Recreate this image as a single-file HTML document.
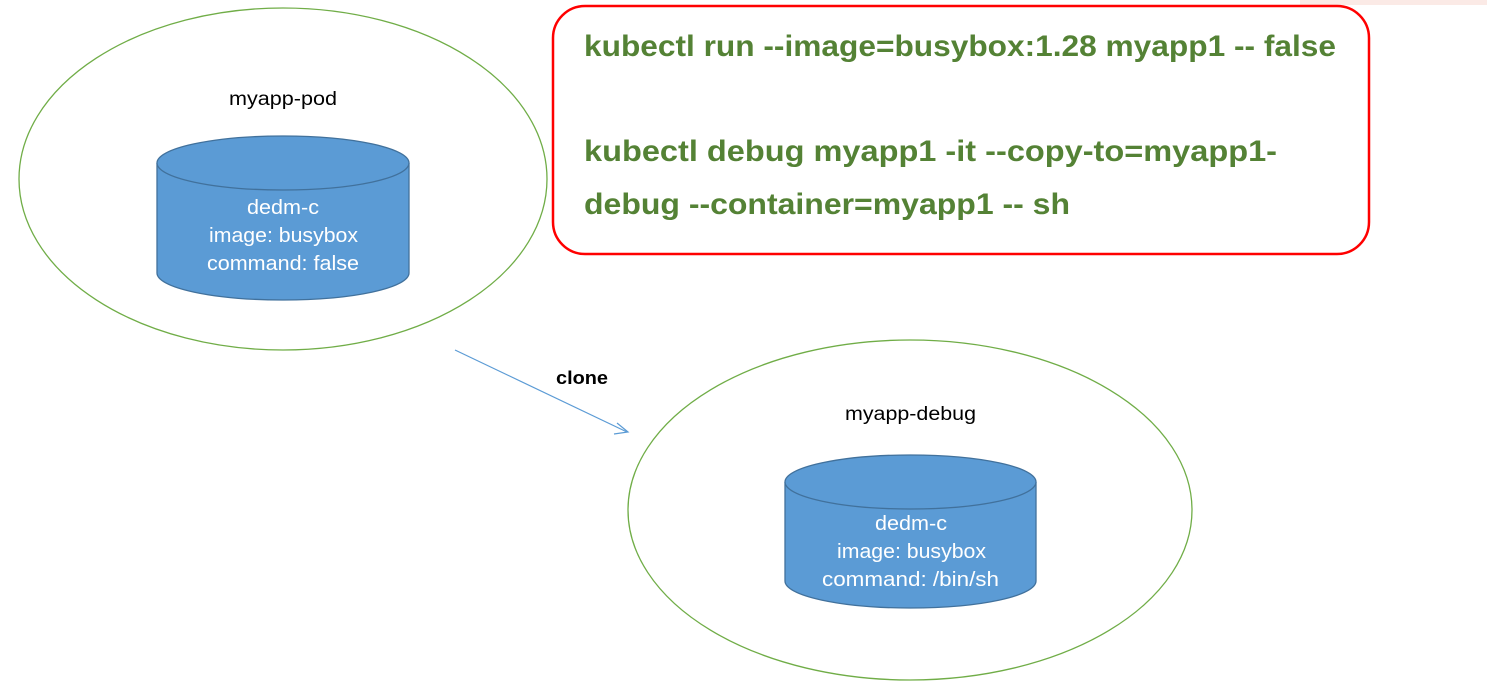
<!DOCTYPE html>
<html><head><meta charset="utf-8"><style>
html,body{margin:0;padding:0;background:#fff;}
svg{display:block;font-family:"Liberation Sans",sans-serif;}
</style></head><body>
<svg width="1487" height="695" viewBox="0 0 1487 695">
<rect x="1300" y="0" width="187" height="5" fill="#fbeae6"/>
<ellipse cx="283" cy="179" rx="264" ry="171" fill="none" stroke="#70ad47" stroke-width="1.3"/>
<ellipse cx="910" cy="510" rx="282" ry="170" fill="none" stroke="#70ad47" stroke-width="1.3"/>
<text x="229" y="105" font-size="19" textLength="108" lengthAdjust="spacingAndGlyphs" fill="#000">myapp-pod</text>
<text x="845" y="420" font-size="19" textLength="131" lengthAdjust="spacingAndGlyphs" fill="#000">myapp-debug</text>
<g stroke="#41719c" stroke-width="1.3" fill="#5b9bd5">
<path d="M157 163 L157 273 A126 27 0 0 0 409 273 L409 163"/>
<ellipse cx="283" cy="163" rx="126" ry="27"/>
<path d="M785 482 L785 581 A125.5 27 0 0 0 1036 581 L1036 482"/>
<ellipse cx="910.5" cy="482" rx="125.5" ry="27"/>
</g>
<g fill="#fff" font-size="20">
<text x="247" y="214" textLength="72" lengthAdjust="spacingAndGlyphs">dedm-c</text>
<text x="209" y="242" textLength="149" lengthAdjust="spacingAndGlyphs">image: busybox</text>
<text x="207" y="270" textLength="152" lengthAdjust="spacingAndGlyphs">command: false</text>
<text x="875" y="530" textLength="72" lengthAdjust="spacingAndGlyphs">dedm-c</text>
<text x="837" y="558" textLength="149" lengthAdjust="spacingAndGlyphs">image: busybox</text>
<text x="822" y="586" textLength="177" lengthAdjust="spacingAndGlyphs">command: /bin/sh</text>
</g>
<line x1="455" y1="350" x2="627" y2="432" stroke="#5b9bd5" stroke-width="1.2"/>
<path d="M617 423 L628 432 L614 434" fill="none" stroke="#5b9bd5" stroke-width="1.2"/>
<text x="556" y="384" font-size="18" font-weight="bold" textLength="52" lengthAdjust="spacingAndGlyphs" fill="#000">clone</text>
<rect x="553" y="6" width="816" height="248" rx="32" fill="#fff" stroke="#ff0000" stroke-width="2.5"/>
<g fill="#548235" font-size="30" font-weight="bold">
<text x="584" y="56" textLength="752" lengthAdjust="spacingAndGlyphs">kubectl run --image=busybox:1.28 myapp1 -- false</text>
<text x="584" y="161" textLength="693" lengthAdjust="spacingAndGlyphs">kubectl debug myapp1 -it --copy-to=myapp1-</text>
<text x="584" y="214" textLength="486" lengthAdjust="spacingAndGlyphs">debug --container=myapp1 -- sh</text>
</g>
</svg>
</body></html>
